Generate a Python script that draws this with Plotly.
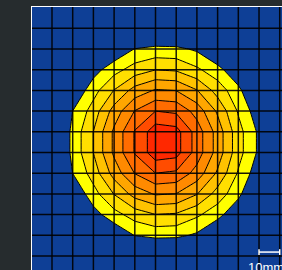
import plotly.graph_objects as go

# ---- data (mm grid) ----
x_mm = [0, 10, 20, 30, 40, 50, 60, 70, 80, 90, 100, 110]
y_mm = [0, 10, 20, 30, 40, 50, 60, 70, 80, 90, 100, 110]

z_row_00 = [-30, -30, -30, -20.8, -12.5, -8.8, -9.3, -14.5, -24, -30, -30, -30]
z_row_10 = [-30, -29, -12.5, 1, 10.4, 12.9, 12.5, 8.3, -2.8, -17.3, -30, -30]
z_row_20 = [-30, -13, 5.8, 16.3, 24.5, 29.8, 28.7, 21.8, 13.9, 0.5, -19, -30]
z_row_30 = [-21.8, 0.5, 16.1, 30.4, 44, 51, 49.8, 40.5, 25.8, 13, -6, -28.8]
z_row_40 = [-13.5, 10.1, 24.5, 44.2, 60.4, 70, 68.2, 56, 38.4, 18.9, 3.3, -20.8]
z_row_50 = [-9.3, 13, 30.2, 52, 70.8, 86, 84, 65.6, 45.8, 23.8, 8, -16.8]
z_row_60 = [-9.3, 13, 30.2, 52, 70.8, 86, 84, 65.6, 45.8, 23.8, 8, -16.8]
z_row_70 = [-13.5, 10.1, 24.5, 44.2, 60.4, 70, 68.2, 56, 38.4, 18.9, 3.3, -20.8]
z_row_80 = [-21.8, 0.5, 16.1, 30.4, 44, 51, 49.8, 40.5, 25.8, 13, -6, -28.8]
z_row_90 = [-30, -13, 5.8, 16.3, 24.5, 29.8, 28.7, 21.8, 13.9, 0.5, -19, -30]
z_row_100 = [-30, -29, -12.5, 1, 10.4, 12.9, 12.5, 8.3, -2.8, -17.3, -30, -30]
z_row_110 = [-30, -30, -30, -20.8, -12.5, -8.8, -9.3, -14.5, -24, -30, -30, -30]

levels_start, levels_end, levels_step = 10, 80, 10
band_colors = ["#0e3f96", "#ffff00", "#ffdf00", "#ffc200", "#ffa600",
               "#ff8a00", "#ff6c00", "#ff4c00", "#ff2800"]

grid_ticks = [0, 10, 20, 30, 40, 50, 60, 70, 80, 90, 100, 110]
scale_bar_mm = [100, 110]
scale_label = "10mm"

# ---- figure ----
z = [z_row_00, z_row_10, z_row_20, z_row_30, z_row_40, z_row_50,
     z_row_60, z_row_70, z_row_80, z_row_90, z_row_100, z_row_110]

n = len(band_colors) - 1
colorscale = [[i / n, c] for i, c in enumerate(band_colors)]

fig = go.Figure(go.Contour(
    x=x_mm, y=y_mm, z=z,
    autocontour=False,
    contours=dict(start=levels_start, end=levels_end, size=levels_step,
                  coloring="fill", showlines=True),
    line=dict(color="black", width=1, smoothing=0),
    colorscale=colorscale, showscale=False, hoverinfo="skip",
))

shapes = []
for t in grid_ticks:
    shapes.append(dict(type="line", xref="x", yref="paper", x0=t, x1=t, y0=0, y1=1,
                       line=dict(color="rgba(0,0,0,0.9)", width=1.5), layer="above"))
    shapes.append(dict(type="line", xref="paper", yref="y", x0=0, x1=1, y0=t, y1=t,
                       line=dict(color="rgba(0,0,0,0.9)", width=1.5), layer="above"))
# scale bar
bar_y = 1.9
shapes.append(dict(type="line", xref="x", yref="y", x0=scale_bar_mm[0], x1=scale_bar_mm[1],
                   y0=bar_y, y1=bar_y, line=dict(color="white", width=1.5), layer="above"))
for sx in scale_bar_mm:
    shapes.append(dict(type="line", xref="x", yref="y", x0=sx, x1=sx,
                       y0=bar_y - 1.4, y1=bar_y + 1.4, line=dict(color="white", width=1.5),
                       layer="above"))

fig.update_layout(
    width=282, height=270,
    margin=dict(l=32, r=0, t=7, b=0),
    paper_bgcolor="#262c2e",
    plot_bgcolor=band_colors[0],
    shapes=shapes,
    showlegend=False,
    annotations=[dict(text=scale_label, x=93.8, y=-0.8, xref="x", yref="y",
                      xanchor="left", yanchor="top", showarrow=False,
                      font=dict(color="white", size=13, family="Liberation Sans, Arial"))],
    xaxis=dict(range=[-9.66, 111.1], showgrid=False, zeroline=False, showticklabels=False,
               ticks="", side="top", showline=True, linecolor="white", linewidth=1.5),
    yaxis=dict(range=[-6.76, 120.3], showgrid=False, zeroline=False, showticklabels=False,
               ticks="", showline=True, linecolor="white", linewidth=1.5),
)

fig.write_html("out.html", config={"displayModeBar": False, "staticPlot": True},
               post_script="document.body.style.margin='0';document.body.style.overflow='hidden';")
